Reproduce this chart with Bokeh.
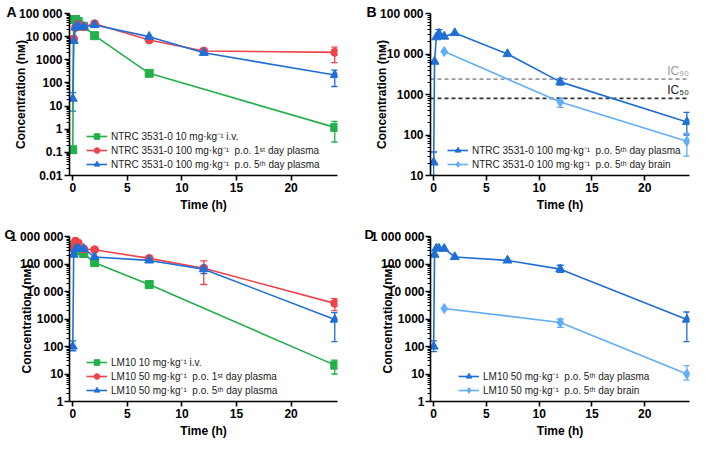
import math
from bokeh.plotting import figure
from bokeh.models import (Range1d, FixedTicker, Whisker, TeeHead, ColumnDataSource,
                          Legend, LegendItem, Title, CustomJSTickFormatter)
from bokeh.layouts import column, row
from bokeh.embed import file_html
from bokeh.resources import INLINE
from bokeh.core.properties import value

GREEN = "#22b04b"
RED = "#f0424a"
BLUE = "#1f6fd6"
LBLUE = "#62aef5"
FONT = "Liberation Sans"

# ---------------- Panel A: NTRC 3531-0 ----------------
a_iv_t = [0, 0.083, 0.25, 0.5, 1, 2, 7, 24]
a_iv_c = [0.13, 55000, 55000, 45000, 28000, 11000, 260, 1.2]
a_iv_err_t = [24]
a_iv_err_lo = [0.28]
a_iv_err_hi = [2.2]

a_d1_t = [0.083, 0.25, 0.5, 1, 2, 7, 12, 24]
a_d1_c = [8000, 25000, 34000, 27000, 36000, 7200, 2400, 2100]
a_d1_err_t = [24]
a_d1_err_lo = [750]
a_d1_err_hi = [3500]

a_d5_t = [0, 0.083, 0.25, 0.5, 1, 2, 7, 12, 24]
a_d5_c = [21, 6500, 25000, 30000, 27000, 32000, 10000, 2000, 220]
a_d5_err_t = [0, 24]
a_d5_err_lo = [6, 70]
a_d5_err_hi = [38, 360]

# ---------------- Panel B: NTRC 3531-0 plasma vs brain ----------------
b_pl_t = [0, 0.083, 0.25, 0.5, 1, 2, 7, 12, 24]
b_pl_c = [21, 6500, 26000, 32000, 27000, 33000, 10000, 2050, 210]
b_pl_err_t = [0, 0.5, 12, 24]
b_pl_err_lo = [10, 25000, 1700, 100]
b_pl_err_hi = [38, 40000, 2500, 360]

b_br_t = [1, 12, 24]
b_br_c = [11500, 650, 70]
b_br_err_t = [12, 24]
b_br_err_lo = [480, 30]
b_br_err_hi = [820, 110]

ic90 = 2400
ic50 = 800

# ---------------- Panel C: LM10 ----------------
c_iv_t = [0.083, 0.25, 0.5, 1, 2, 7, 24]
c_iv_c = [480000, 350000, 300000, 240000, 112000, 18000, 21]
c_iv_err_t = [24]
c_iv_err_lo = [10]
c_iv_err_hi = [32]

c_d1_t = [0.083, 0.25, 0.5, 1, 2, 7, 12, 24]
c_d1_c = [380000, 680000, 580000, 350000, 330000, 160000, 70000, 3700]
c_d1_err_t = [7, 12, 24]
c_d1_err_lo = [130000, 18000, 2000]
c_d1_err_hi = [190000, 130000, 5500]

c_d5_t = [0, 0.083, 0.25, 0.5, 1, 2, 7, 12, 24]
c_d5_c = [100, 220000, 350000, 370000, 360000, 180000, 135000, 65000, 950]
c_d5_err_t = [0, 12, 24]
c_d5_err_lo = [70, 45000, 150]
c_d5_err_hi = [160, 75000, 1700]

# ---------------- Panel D: LM10 plasma vs brain ----------------
d_pl_t = [0, 0.083, 0.25, 0.5, 1, 2, 7, 12, 24]
d_pl_c = [100, 220000, 370000, 370000, 360000, 180000, 135000, 65000, 950]
d_pl_err_t = [0, 12, 24]
d_pl_err_lo = [65, 50000, 150]
d_pl_err_hi = [160, 90000, 1800]

d_br_t = [1, 12, 24]
d_br_c = [2400, 750, 10]
d_br_err_t = [12, 24]
d_br_err_lo = [500, 6]
d_br_err_hi = [1000, 20]

x_ticks = [0, 5, 10, 15, 20]

a_yticks = [0.01, 0.1, 1, 10, 100, 1000, 10000, 100000]
a_ylabels = ["0.01", "0.1", "1", "10", "100", "1000", "10 000", "100 000"]
b_yticks = [10, 100, 1000, 10000, 100000]
b_ylabels = ["10", "100", "1000", "10 000", "100 000"]
c_yticks = [1, 10, 100, 1000, 10000, 100000, 1000000]
c_ylabels = ["1", "10", "100", "1000", "10 000", "100 000", "1 000 000"]

LEG_A = ["NTRC 3531-0 10 mg\u00b7kg\u207b\u00b9 i.v.",
         "NTRC 3531-0 100 mg\u00b7kg\u207b\u00b9  p.o. 1\u02e2\u1d57 day plasma",
         "NTRC 3531-0 100 mg\u00b7kg\u207b\u00b9  p.o. 5\u1d57\u02b0 day plasma"]
LEG_B = ["NTRC 3531-0 100 mg\u00b7kg\u207b\u00b9  p.o. 5\u1d57\u02b0 day plasma",
         "NTRC 3531-0 100 mg\u00b7kg\u207b\u00b9  p.o. 5\u1d57\u02b0 day brain"]
LEG_C = ["LM10 10 mg\u00b7kg\u207b\u00b9 i.v.",
         "LM10 50 mg\u00b7kg\u207b\u00b9  p.o. 1\u02e2\u1d57 day plasma",
         "LM10 50 mg\u00b7kg\u207b\u00b9  p.o. 5\u1d57\u02b0 day plasma"]
LEG_D = ["LM10 50 mg\u00b7kg\u207b\u00b9  p.o. 5\u1d57\u02b0 day plasma",
         "LM10 50 mg\u00b7kg\u207b\u00b9  p.o. 5\u1d57\u02b0 day brain"]

Y_LABEL = "Concentration (n\u1d0d)"
X_LABEL = "Time (h)"

XR = (-0.3, 24.25)


def make_fig(w, h, yr, yticks, ylabels, bl, br, bt, bb, ylab_standoff, tick_standoff,
             letter, letter_offset, letter_standoff, letter_size):
    p = figure(width=w, height=h, y_axis_type="log",
               x_range=Range1d(*XR), y_range=Range1d(*yr),
               output_backend="svg", toolbar_location=None,
               min_border_left=bl, min_border_right=br,
               min_border_top=bt, min_border_bottom=bb)
    p.outline_line_color = None
    p.grid.visible = False
    p.xaxis.ticker = FixedTicker(ticks=x_ticks)
    minors = []
    for t in yticks[:-1]:
        minors += [t * k for k in range(2, 10)]
    p.yaxis.ticker = FixedTicker(ticks=yticks, minor_ticks=minors)
    p.yaxis.formatter = CustomJSTickFormatter(args=dict(tv=yticks, lb=ylabels), code="""
        for (let i = 0; i < tv.length; i++) {
            if (Math.abs(Math.log10(tv[i]) - Math.log10(tick)) < 1e-6) return lb[i];
        }
        return '';
    """)
    for ax in (p.xaxis[0], p.yaxis[0]):
        ax.axis_line_width = 1.6
        ax.axis_line_color = "black"
        ax.major_tick_line_width = 1.6
        ax.major_tick_out = 5
        ax.major_tick_in = 0
        ax.minor_tick_line_width = 1.2
        ax.minor_tick_out = 3
        ax.minor_tick_in = 0
        ax.major_label_text_font = FONT
        ax.major_label_text_font_style = "bold"
        ax.major_label_text_font_size = "12px"
        ax.major_label_text_color = "black"
        ax.axis_label_text_font = FONT
        ax.axis_label_text_font_style = "bold"
        ax.axis_label_text_font_size = "12px"
        ax.axis_label_text_color = "black"
    p.xaxis.major_label_standoff = 2
    p.yaxis.major_label_standoff = tick_standoff
    p.xaxis.axis_label_standoff = 3
    p.yaxis.axis_label_standoff = ylab_standoff
    p.xaxis.minor_tick_line_color = None
    p.xaxis.axis_label = X_LABEL
    p.yaxis.axis_label = Y_LABEL
    p.add_layout(Title(text=letter, align="left", offset=letter_offset, standoff=letter_standoff,
                       text_font=FONT, text_font_style="bold", text_font_size=letter_size,
                       text_color="black"), "above")
    return p


def series(p, t, c, et, elo, ehi, color, marker, size):
    lr = p.line(t, c, line_color=color, line_width=1.6)
    src = ColumnDataSource(dict(x=et, lo=elo, hi=ehi))
    w = Whisker(base="x", lower="lo", upper="hi", source=src, line_color=color, line_width=1.3,
                lower_head=TeeHead(size=7, line_color=color, line_width=1.3),
                upper_head=TeeHead(size=7, line_color=color, line_width=1.3))
    p.add_layout(w)
    sr = p.scatter(t, c, marker=marker, size=size, fill_color=color, line_color=color)
    return [lr, sr]


def add_legend(p, items, loc):
    leg = Legend(items=[LegendItem(label=l, renderers=r) for l, r in items],
                 location=loc, background_fill_alpha=0, border_line_color=None,
                 padding=0, margin=0, spacing=0, glyph_width=21, glyph_height=14,
                 label_height=14, label_standoff=4, label_text_font=FONT,
                 label_text_font_size="10px", label_text_color="#222222")
    p.add_layout(leg)


W1, W2 = 360, 333
H1, H2 = 214, 226

# Panel A
pa = make_fig(W1, H1, (0.01, 100000), a_yticks, a_ylabels, 69, 23, 13, 30, -12, 2, "A", -63, -13, "14px")
ga = series(pa, a_iv_t, a_iv_c, a_iv_err_t, a_iv_err_lo, a_iv_err_hi, GREEN, "square", 8)
ra = series(pa, a_d1_t, a_d1_c, a_d1_err_t, a_d1_err_lo, a_d1_err_hi, RED, "circle", 8)
ba = series(pa, a_d5_t, a_d5_c, a_d5_err_t, a_d5_err_lo, a_d5_err_hi, BLUE, "triangle", 9)
add_legend(pa, [(LEG_A[0], ga), (LEG_A[1], ra), (LEG_A[2], ba)], (17, 4))

# Panel B
pb = make_fig(W2, H1, (10, 100000), b_yticks, b_ylabels, 70, 4, 13, 30, -12, 2, "B", -64, -13, "14px")
pb.line(list(XR), [ic90, ic90], line_color="#9a9a9a", line_width=1.6, line_dash="4 3")
pb.line(list(XR), [ic50, ic50], line_color="#333333", line_width=1.6, line_dash="4 3")
pb.text([24.2], [ic90 * 1.06], text=["IC\u2089\u2080"], text_align="right", text_baseline="bottom",
        text_font=value(FONT), text_font_size="12px", text_color="#9a9a9a")
pb.text([24.2], [ic50 * 1.06], text=["IC\u2085\u2080"], text_align="right", text_baseline="bottom",
        text_font=value(FONT), text_font_size="12px", text_color="#222222")
pbl = series(pb, b_pl_t, b_pl_c, b_pl_err_t, b_pl_err_lo, b_pl_err_hi, BLUE, "triangle", 9)
pbr = series(pb, b_br_t, b_br_c, b_br_err_t, b_br_err_lo, b_br_err_hi, LBLUE, "diamond", 10)
add_legend(pb, [(LEG_B[0], pbl), (LEG_B[1], pbr)], (17, 4))

# Panel C
pc = make_fig(W1, H2, (1, 1000000), c_yticks, c_ylabels, 69, 23, 22, 30, -27, 1, "C", -65, -10, "13px")
gc = series(pc, c_iv_t, c_iv_c, c_iv_err_t, c_iv_err_lo, c_iv_err_hi, GREEN, "square", 8)
rc = series(pc, c_d1_t, c_d1_c, c_d1_err_t, c_d1_err_lo, c_d1_err_hi, RED, "circle", 8)
bc = series(pc, c_d5_t, c_d5_c, c_d5_err_t, c_d5_err_lo, c_d5_err_hi, BLUE, "triangle", 9)
add_legend(pc, [(LEG_C[0], gc), (LEG_C[1], rc), (LEG_C[2], bc)], (17, 4))

# Panel D
pd = make_fig(W2, H2, (1, 1000000), c_yticks, c_ylabels, 70, 4, 22, 30, -27, 1, "D", -66, -10, "13px")
dpl = series(pd, d_pl_t, d_pl_c, d_pl_err_t, d_pl_err_lo, d_pl_err_hi, BLUE, "triangle", 9)
dbr = series(pd, d_br_t, d_br_c, d_br_err_t, d_br_err_lo, d_br_err_hi, LBLUE, "diamond", 10)
add_legend(pd, [(LEG_D[0], dpl), (LEG_D[1], dbr)], (28, 4))

layout = column(row(pa, pb), row(pc, pd))
open("out.html", "w").write(file_html(layout, INLINE))
